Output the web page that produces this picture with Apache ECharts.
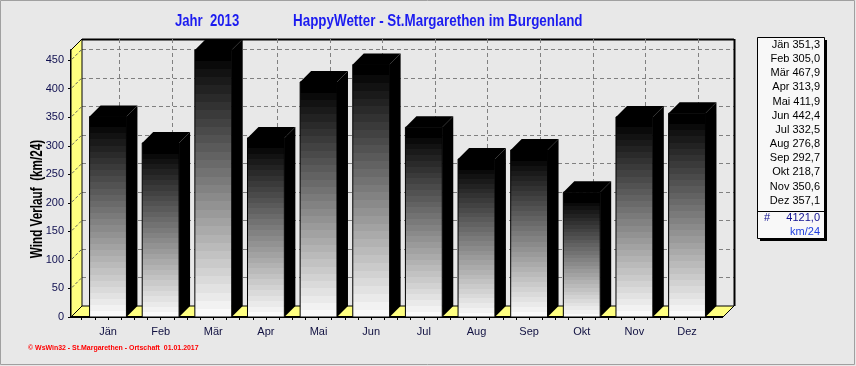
<!DOCTYPE html>
<html><head><meta charset="utf-8">
<script src="https://cdn.jsdelivr.net/npm/echarts@6.0.0/dist/echarts.min.js"></script>
<style>html,body{margin:0;padding:0;background:#e8e8e8}#c{width:856px;height:366px}</style>
</head><body><div id="c"></div>
<script>
const categories = ['Jän','Feb','Mär','Apr','Mai','Jun','Jul','Aug','Sep','Okt','Nov','Dez'];
const values = [351.3,305.0,467.9,313.9,411.9,442.4,332.5,276.8,292.7,218.7,350.6,357.1];
const yTicks = [0,50,100,150,200,250,300,350,400,450];
const totalValue = 4121.0;
const totalUnit = 'km/24';
const titleYear = 'Jahr  2013';
const titleMain = 'HappyWetter - St.Margarethen im Burgenland';
const yName = 'Wind Verlauf  (km/24)';
const footer = '\u00a9 WsWin32 - St.Margarethen - Ortschaft  01.01.2017';

const yMax = Math.max(...values);
const DEPTH = 11;
const FONT = '"Liberation Sans", Arial, sans-serif';
const fmt = v => v.toFixed(1).replace('.', ',');
const px = v => Math.round(v) + 0.5;

function frameItem(params, api) {
  const cs = params.coordSys;
  const L = cs.x, R = cs.x + cs.width, T = cs.y, B = cs.y + cs.height, D = DEPTH;
  const ch = [];
  const dash = {stroke:'#808080', lineWidth:1, lineDash:[4,3]};
  ch.push({type:'polygon', shape:{points:[[L+D,T-D],[R+D,T-D],[R+D,B-D],[L+D,B-D]]}, style:{fill:'#e8e8e8'}});
  yTicks.forEach(v => {
    if (v === 0) return;
    const y = px(api.coord([0, v])[1] - D);
    ch.push({type:'line', shape:{x1:L+D, y1:y, x2:R+D, y2:y}, style:dash});
  });
  ch.push({type:'polygon', shape:{points:[[L,B],[L,T],[L+D,T-D],[L+D,B-D]]}, style:{fill:'#ffff80', stroke:'#000', lineWidth:1}});
  yTicks.forEach(v => {
    if (v === 0) return;
    const y = api.coord([0, v])[1];
    ch.push({type:'line', shape:{x1:L+1, y1:y-1, x2:L+D, y2:y-D}, style:{stroke:'#606060', lineWidth:1, lineDash:[3,2]}});
  });
  ch.push({type:'polygon', shape:{points:[[L,B],[L+D,B-D],[R+D,B-D],[R,B]]}, style:{fill:'#ffff80', stroke:'#000', lineWidth:1}});
  const edge = {stroke:'#000', lineWidth:1};
  ch.push({type:'line', shape:{x1:L+D, y1:px(T-D), x2:R+D, y2:px(T-D)}, style:{stroke:'#000', lineWidth:2}});
  ch.push({type:'line', shape:{x1:px(R+D), y1:T-D, x2:px(R+D), y2:B-D}, style:{stroke:'#000', lineWidth:2}});
  ch.push({type:'line', shape:{x1:L, y1:T, x2:L+D, y2:T-D}, style:edge});
  ch.push({type:'line', shape:{x1:R, y1:B, x2:R+D, y2:B-D}, style:edge});
  ch.push({type:'line', shape:{x1:L, y1:B, x2:R, y2:B}, style:{stroke:'#000', lineWidth:2}});
  return {type:'group', children:ch};
}

function barItem(params, api) {
  const i = api.value(0), v = api.value(1);
  const base = api.coord([i, 0]), top = api.coord([i, v]);
  const bw = api.size([1, 0])[0] * 0.70;
  const x0 = base[0] - bw / 2, x1 = base[0] + bw / 2, yb = base[1], yt = top[1], D = DEPTH;
  const cs = params.coordSys;
  const h = yb - yt;
  const off0 = Math.min(D / h, 1);
  const stops = [{offset:0, color:'#000'}, {offset:off0, color:'#000'}];
  const N = 31;
  for (let k = 0; k < N; k++) {
    const a = off0 + (1 - off0) * k / N, b = off0 + (1 - off0) * (k + 1) / N;
    const g = 10 + 8 * k;
    const col = 'rgb(' + g + ',' + g + ',' + g + ')';
    stops.push({offset:a, color:col}, {offset:b, color:col});
  }
  const gx = px(base[0] + D);
  return {type:'group', children:[
    {type:'line', shape:{x1:gx, y1:cs.y - D, x2:gx, y2:cs.y + cs.height - D}, style:{stroke:'#808080', lineWidth:1, lineDash:[4,3]}},
    {type:'polygon', shape:{points:[[x1,yt],[x1+D,yt-D],[x1+D,yb-D],[x1,yb]]}, style:{fill:'#000'}},
    {type:'polygon', shape:{points:[[x0,yt],[x0+D,yt-D],[x1+D,yt-D],[x1,yt]]}, style:{fill:'#000'}},
    {type:'rect', shape:{x:x0, y:yt, width:bw, height:h}, style:{fill:{type:'linear', x:0, y:0, x2:0, y2:1, colorStops:stops}, stroke:'#000', lineWidth:1}}
  ]};
}

const graphics = [];
graphics.push({type:'rect', shape:{x:0.5, y:0.5, width:854, height:364}, style:{fill:'none', stroke:'#a0a0a0', lineWidth:1}, z:-1});
graphics.push({type:'text', x:175, y:22, scaleX:0.82, style:{text:titleYear, font:'bold 16px ' + FONT, fill:'#1c1cf0', verticalAlign:'middle'}});
graphics.push({type:'text', x:293, y:22, scaleX:0.838, style:{text:titleMain, font:'bold 16px ' + FONT, fill:'#1c1cf0', verticalAlign:'middle'}});
graphics.push({type:'text', x:37, y:199, rotation:Math.PI / 2, scaleX:0.69, style:{text:yName, font:'bold 17px ' + FONT, fill:'#000', align:'center', verticalAlign:'middle'}});
graphics.push({type:'text', x:28, y:348, scaleX:0.87, style:{text:footer, font:'bold 8px ' + FONT, fill:'#ff0000', verticalAlign:'middle'}});
graphics.push({type:'rect', shape:{x:760, y:40, width:67, height:201}, style:{fill:'#000'}});
graphics.push({type:'rect', shape:{x:757.5, y:37.5, width:67, height:201}, style:{fill:'#f8f8f8', stroke:'#000', lineWidth:1}});
categories.forEach((c, i) => {
  graphics.push({type:'text', x:820, y:45 + i * 14.15, style:{text:c + ' ' + fmt(values[i]), font:'11px ' + FONT, fill:'#000', align:'right', verticalAlign:'middle'}});
});
graphics.push({type:'line', shape:{x1:757.5, y1:211.5, x2:824.5, y2:211.5}, style:{stroke:'#000', lineWidth:1}});
graphics.push({type:'text', x:764, y:218, style:{text:'#', font:'11px ' + FONT, fill:'#101090', verticalAlign:'middle'}});
graphics.push({type:'text', x:820, y:218, style:{text:fmt(totalValue), font:'11px ' + FONT, fill:'#101090', align:'right', verticalAlign:'middle'}});
graphics.push({type:'text', x:820, y:232, style:{text:totalUnit, font:'11px ' + FONT, fill:'#2040e0', align:'right', verticalAlign:'middle'}});

const chart = echarts.init(document.getElementById('c'), null, {renderer:'canvas'});
chart.setOption({
  backgroundColor:'#e8e8e8',
  animation:false,
  grid:[
    {left:81.68, right:142.64, top:50, bottom:49},
    {left:71, right:133, top:50, bottom:49}
  ],
  xAxis:[
    {type:'category', gridIndex:0, data:categories, boundaryGap:true, position:'bottom',
     axisLine:{show:false},
     axisTick:{show:false},
     axisLabel:{fontSize:11, fontFamily:FONT, color:'#101040', margin:9},
     splitLine:{show:false}},
    {type:'value', gridIndex:1, min:0, max:1, show:false},
    {type:'value', gridIndex:0, min:0, max:categories.length, interval:0.25, position:'bottom', offset:0,
     axisLine:{show:false},
     axisTick:{show:true, length:3, lineStyle:{color:'#000'}},
     axisLabel:{show:false},
     splitLine:{show:false}}
  ],
  yAxis:[
    {type:'value', gridIndex:0, min:0, max:yMax, show:false},
    {type:'value', gridIndex:1, min:0, max:yMax,
     axisLine:{show:true, lineStyle:{color:'#000', width:2}},
     axisTick:{show:true, length:3, lineStyle:{color:'#000'}, customValues:yTicks},
     axisLabel:{fontSize:11, fontFamily:FONT, color:'#101050', margin:7, customValues:yTicks},
     splitLine:{show:false}}
  ],
  graphic:graphics,
  series:[
    {type:'custom', xAxisIndex:1, yAxisIndex:1, data:[[0, 0]], renderItem:frameItem, silent:true, z:1},
    {type:'custom', xAxisIndex:0, yAxisIndex:0, data:values.map((v, i) => [i, v]), encode:{x:0, y:1}, renderItem:barItem, silent:true, z:2}
  ]
});
</script></body></html>
